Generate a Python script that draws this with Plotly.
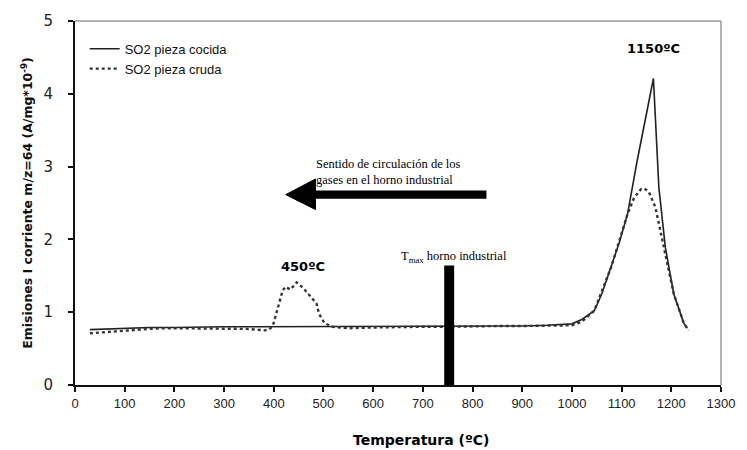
import plotly.graph_objects as go

# Series: SO2 pieza cocida (solid)
t_cocida = [30, 60, 100, 150, 200, 250, 300, 350, 400, 450, 500, 550, 600, 650, 700, 750,
            800, 850, 900, 950, 1000, 1020, 1045, 1060, 1079, 1095, 1112, 1131, 1151, 1164,
            1175, 1188, 1205, 1225, 1232]
y_cocida = [0.76, 0.77, 0.78, 0.79, 0.79, 0.80, 0.80, 0.80, 0.80, 0.80, 0.80, 0.80, 0.81, 0.81,
            0.81, 0.81, 0.80, 0.80, 0.81, 0.82, 0.84, 0.90, 1.02, 1.25, 1.62, 1.95, 2.35, 3.07,
            3.76, 4.21, 2.71, 1.89, 1.25, 0.85, 0.78]

# Series: SO2 pieza cruda (dotted)
t_cruda = [30, 50, 80, 100, 169, 200, 250, 300, 350, 381, 390, 398, 410, 418, 424, 433, 440,
           446, 458, 474, 486, 491, 502, 518, 550, 600, 650, 700, 750, 800, 850, 900, 950,
           1000, 1020, 1045, 1079, 1112, 1125, 1139, 1146, 1155, 1168, 1185, 1205, 1225, 1235]
y_cruda = [0.71, 0.72, 0.74, 0.75, 0.78, 0.78, 0.78, 0.78, 0.77, 0.75, 0.76, 0.81, 1.10, 1.30,
           1.35, 1.31, 1.36, 1.41, 1.34, 1.21, 1.12, 0.98, 0.85, 0.80, 0.78, 0.79, 0.80, 0.80,
           0.80, 0.81, 0.81, 0.81, 0.81, 0.82, 0.87, 1.02, 1.62, 2.35, 2.57, 2.69, 2.70, 2.65,
           2.44, 1.89, 1.25, 0.85, 0.75]

x_ticks = list(range(0, 1301, 100))
y_ticks = [0, 1, 2, 3, 4, 5]

fig = go.Figure()
fig.add_trace(go.Scatter(x=t_cocida, y=y_cocida, mode="lines", name="SO2 pieza cocida",
                         line=dict(color="#222222", width=1.6)))
fig.add_trace(go.Scatter(x=t_cruda, y=y_cruda, mode="lines", name="SO2 pieza cruda",
                         line=dict(color="#333333", width=2.4, dash="dot")))

# T max bar (vertical black bar)
fig.add_shape(type="rect", x0=743, x1=763, y0=0, y1=1.64, fillcolor="black",
              line=dict(width=0), layer="above")
# Arrow: shaft + head
fig.add_shape(type="rect", x0=480, x1=828, y0=2.56, y1=2.67, fillcolor="black",
              line=dict(width=0))
fig.add_shape(type="path", path="M 424 2.615 L 484 2.83 L 484 2.41 Z", fillcolor="black",
              line=dict(color="black", width=1))

# Frame top/right grey
fig.add_shape(type="line", xref="paper", yref="paper", x0=0, x1=1, y0=1, y1=1,
              line=dict(color="#9a9a9a", width=1.5))
fig.add_shape(type="line", xref="paper", yref="paper", x0=1, x1=1, y0=0, y1=1,
              line=dict(color="#9a9a9a", width=1.5))

fig.add_annotation(x=1165, y=4.62, text="<b>1150ºC</b>", showarrow=False,
                   font=dict(family="DejaVu Sans", size=13, color="black"))
fig.add_annotation(x=458, y=1.63, text="<b>450ºC</b>", showarrow=False,
                   font=dict(family="DejaVu Sans", size=13, color="black"))
fig.add_annotation(x=481, y=2.93, text="Sentido de circulación de los<br>gases en el horno industrial",
                   showarrow=False, xanchor="left", align="left",
                   font=dict(family="Liberation Serif", size=12.5, color="black"))
fig.add_annotation(x=763, y=1.76, text="T<sub>max</sub> horno industrial", showarrow=False,
                   font=dict(family="Liberation Serif", size=12.5, color="black"))
fig.add_annotation(xref="paper", yref="paper", x=(425 - 75) / 652, y=-55 / 366,
                   text="<b>Temperatura (ºC)</b>", showarrow=False, yanchor="middle",
                   font=dict(family="DejaVu Sans", size=14, color="black"))

fig.update_layout(
    width=747, height=450,
    margin=dict(l=75, r=20, t=19, b=65),
    paper_bgcolor="white", plot_bgcolor="white",
    showlegend=True,
    legend=dict(x=0.015, y=0.965, xanchor="left", yanchor="top",
                bgcolor="rgba(0,0,0,0)", font=dict(family="Liberation Sans", size=13, color="#111"),
                tracegroupgap=0, itemwidth=30),
    xaxis=dict(range=[0, 1300], tickvals=x_ticks, showgrid=False, zeroline=False,
               showline=True, linecolor="#111", linewidth=2, ticks="outside", ticklen=5,
               tickcolor="#111", tickwidth=1.5,
               tickfont=dict(family="Liberation Sans", size=13, color="#222")),
    yaxis=dict(range=[0, 5], tickvals=y_ticks, showgrid=False, zeroline=False,
               showline=True, linecolor="#111", linewidth=2, ticks="outside", ticklen=5,
               tickcolor="#111", tickwidth=1.5, ticklabelstandoff=12,
               tickfont=dict(family="DejaVu Sans", size=15, color="#222"),
               title=dict(text="<b>Emisiones I corriente m/z=64 (A/mg*10<sup>-9</sup>)</b>",
                          font=dict(family="DejaVu Sans", size=12.5, color="#111"), standoff=8)),
)

fig.write_html("out.html")
